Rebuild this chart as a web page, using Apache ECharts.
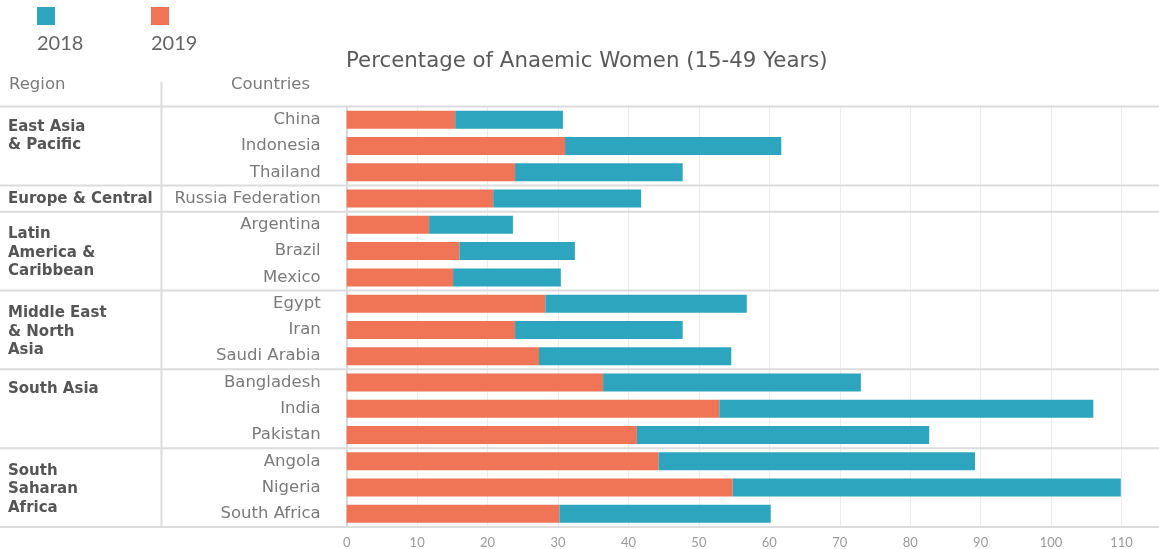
<!DOCTYPE html>
<html>
<head>
<meta charset="utf-8">
<script src="https://cdn.jsdelivr.net/npm/echarts@6/dist/echarts.min.js"></script>
<style>
  html, body { margin: 0; padding: 0; background: #fff; }
  #chart { width: 1159px; height: 549px; }
</style>
</head>
<body>
<div id="chart"></div>
<script>
// Countries, grouped by region (top to bottom)
const countries = ['China', 'Indonesia', 'Thailand', 'Russia Federation', 'Argentina', 'Brazil', 'Mexico',
  'Egypt', 'Iran', 'Saudi Arabia', 'Bangladesh', 'India', 'Pakistan', 'Angola', 'Nigeria', 'South Africa'];
// Prevalence of anaemia among women aged 15-49, in percent
const values2019 = [15.4, 31.0, 23.9, 20.8, 11.7, 16.0, 15.1, 28.2, 23.9, 27.3, 36.4, 52.9, 41.2, 44.3, 54.8, 30.2];
const values2018 = [15.3, 30.7, 23.8, 21.0, 11.9, 16.4, 15.3, 28.6, 23.8, 27.3, 36.6, 53.1, 41.5, 44.9, 55.1, 30.0];
// Region names and how many countries each one covers
const regions = ['East Asia\n& Pacific', 'Europe & Central', 'Latin\nAmerica &\nCaribbean',
  'Middle East\n& North\nAsia', 'South Asia', 'South\nSaharan\nAfrica'];
const regionSizes = [3, 1, 3, 3, 3, 3];
// Value axis ticks
const xTicks = [0, 10, 20, 30, 40, 50, 60, 70, 80, 90, 100, 110];
const seriesNames = ['2018', '2019'];

const COLOR_2018 = '#2EA5BF';
const COLOR_2019 = '#F07456';
const FONT = '"DejaVu Sans", sans-serif';
const NUM_FONT = 'Lato, "Noto Sans", sans-serif';

const chart = echarts.init(document.getElementById('chart'), null, { renderer: 'canvas' });

const option = {
  animation: false,
  backgroundColor: '#fff',
  textStyle: { fontFamily: FONT },
  title: {
    text: 'Percentage of Anaemic Women (15-49 Years)',
    left: 341, top: 46,
    textStyle: { fontFamily: FONT, fontSize: 21.3, fontWeight: 'normal', color: '#5a5a5a' }
  },
  grid: { left: 346.7, right: 37.5, top: 106.6, bottom: 21.7, containLabel: false },
  xAxis: {
    type: 'value',
    min: xTicks[0], max: xTicks[xTicks.length - 1], interval: xTicks[1] - xTicks[0],
    axisLine: { show: false },
    axisTick: { show: false },
    axisLabel: { color: '#9a9a9a', fontSize: 13, margin: 9, fontFamily: NUM_FONT },
    splitLine: { show: true, lineStyle: { color: '#ececec', width: 1 } }
  },
  yAxis: {
    type: 'category',
    data: countries,
    inverse: true,
    axisLine: { show: true, lineStyle: { color: '#cfcfcf', width: 1.5 } },
    axisTick: { show: false },
    axisLabel: { color: '#7a7a7a', fontSize: 16.5, margin: 26, fontFamily: FONT, padding: [2, 0, 0, 0] },
    splitLine: { show: false }
  },
  series: [
    {
      name: seriesNames[1], type: 'bar', stack: 'total', data: values2019, barWidth: 18,
      itemStyle: { color: COLOR_2019 }
    },
    {
      name: seriesNames[0], type: 'bar', stack: 'total', data: values2018, barWidth: 18,
      itemStyle: { color: COLOR_2018 }
    }
  ]
};

chart.setOption(option);

// Table rules, region names and the key are placed from the category axis positions
function rowCenter(i) { return chart.convertToPixel({ yAxisIndex: 0 }, countries[i]); }
const band = rowCenter(1) - rowCenter(0);
const tableTop = rowCenter(0) - band / 2;
const tableBottom = rowCenter(countries.length - 1) + band / 2;

const graphics = [];
const ruleStyle = { stroke: '#dcdcdc', lineWidth: 2 };

// Region names, and horizontal rules at region boundaries
let start = 0;
const boundaries = [tableTop];
regionSizes.forEach(function (n, r) {
  const top = rowCenter(start) - band / 2;
  const lines = regions[r].split('\n').length;
  const textTop = n === 1 ? top + band / 2 - 9 : top + (lines === 3 ? 13.5 : 11);
  graphics.push({
    type: 'text', left: 8, top: textTop, z: 10,
    style: { text: regions[r], font: 'bold 15px ' + FONT, fill: '#555', lineHeight: 18.5 }
  });
  start += n;
  boundaries.push(rowCenter(start - 1) + band / 2);
});
boundaries.forEach(function (y) {
  graphics.push({ type: 'line', shape: { x1: 0, y1: y, x2: 1159, y2: y }, style: ruleStyle, z: 5 });
});

// Column divider between region and country names
graphics.push({ type: 'line', shape: { x1: 161.5, y1: 82, x2: 161.5, y2: tableBottom }, style: ruleStyle, z: 5 });

// Column headers
graphics.push({ type: 'text', left: 9, top: 76, style: { text: 'Region', font: '16.5px ' + FONT, fill: '#7a7a7a' } });
graphics.push({ type: 'text', left: 231, top: 76, style: { text: 'Countries', font: '16.5px ' + FONT, fill: '#7a7a7a' } });

// Key: colour square above the year
[[seriesNames[0], COLOR_2018, 37], [seriesNames[1], COLOR_2019, 151]].forEach(function (k) {
  graphics.push({ type: 'rect', shape: { x: k[2], y: 7, width: 18, height: 18 }, style: { fill: k[1] } });
  graphics.push({ type: 'text', left: k[2], top: 34, style: { text: k[0], font: '20px ' + NUM_FONT, fill: '#666' } });
});

chart.setOption({ graphic: graphics });
</script>
</body>
</html>
